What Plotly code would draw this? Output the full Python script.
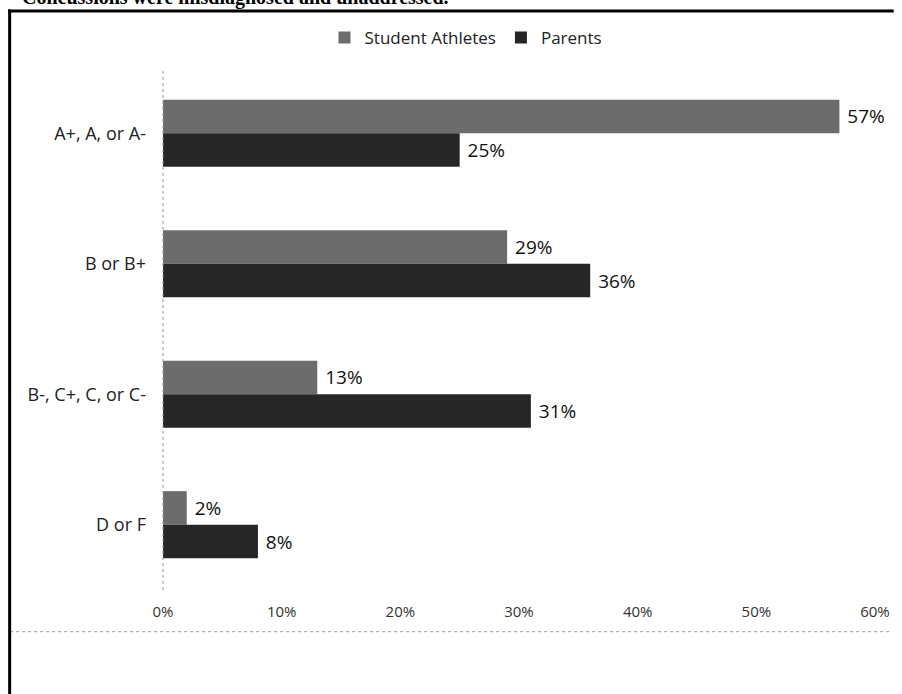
import plotly.graph_objects as go

categories = ["A+, A, or A-", "B or B+", "B-, C+, C, or C-", "D or F"]
student_athletes = [57, 29, 13, 2]
parents = [25, 36, 31, 8]
tick_values = [0, 10, 20, 30, 40, 50, 60]
title_text = "Concussions were misdiagnosed and unaddressed."

W, H = 902, 694
L, R, T, B = 163, 17, 64, 104
pw, ph = W - L - R, H - T - B

def px(x):
    return (x - L) / pw

def py(y):
    return (H - B - y) / ph

FONT = "'Open Sans', Lato, sans-serif"

fig = go.Figure()
fig.add_trace(go.Bar(
    name="Student Athletes", y=categories, x=student_athletes, orientation="h",
    marker=dict(color="#6c6c6c", line=dict(width=0)),
    text=[f"\u00a0{v}%" for v in student_athletes], textposition="outside",
    textfont=dict(size=19, color="#111111", family=FONT), cliponaxis=False,
))
fig.add_trace(go.Bar(
    name="Parents", y=categories, x=parents, orientation="h",
    marker=dict(color="#262626", line=dict(width=0)),
    text=[f"\u00a0{v}%" for v in parents], textposition="outside",
    textfont=dict(size=19, color="#111111", family=FONT), cliponaxis=False,
))

fig.update_layout(
    width=W, height=H,
    margin=dict(l=L, r=R, t=T, b=B),
    paper_bgcolor="white", plot_bgcolor="white",
    barmode="group", bargap=0.485, bargroupgap=0,
    font=dict(family=FONT, color="#222222"),
    showlegend=True,
    legend=dict(orientation="h", xref="container", yref="container",
                x=466 / W, y=1 - 38 / H, xanchor="center", yanchor="middle",
                font=dict(size=17, color="#222222"), traceorder="normal",
                itemwidth=30),
    xaxis=dict(range=[0, 60], tickvals=tick_values,
               ticktext=[f"{v}%" for v in tick_values],
               showgrid=False, zeroline=False, showline=False, ticks="",
               tickfont=dict(size=15, color="#333333"), ticklabelstandoff=11),
    yaxis=dict(autorange="reversed", showgrid=False, zeroline=False,
               showline=False, ticks="", tickfont=dict(size=18, color="#222222"),
               ticklabelstandoff=16),
    shapes=[
        dict(type="line", xref="paper", yref="paper", x0=0, x1=0, y0=0, y1=1,
             line=dict(color="#9a9a9a", width=1, dash="dot")),
        dict(type="line", xref="paper", yref="paper", x0=px(8), x1=px(W), y0=py(632), y1=py(632),
             line=dict(color="#9a9a9a", width=1, dash="dot")),
        dict(type="line", xref="paper", yref="paper", x0=px(7.5), x1=px(7.5), y0=py(H + 2), y1=py(5),
             line=dict(color="#000000", width=3)),
        dict(type="line", xref="paper", yref="paper", x0=px(6), x1=px(W + 2), y0=py(6.5), y1=py(6.5),
             line=dict(color="#000000", width=3)),
    ],
    annotations=[
        dict(text=f"<b>{title_text}</b>", xref="paper", yref="paper", x=px(18), y=py(-7),
             xanchor="left", yanchor="middle", showarrow=False,
             font=dict(family="'Liberation Serif', serif", size=20, color="#000000")),
    ],
)

fig.write_html("out.html", config={"displayModeBar": False},
               post_script="document.body.style.margin='0';")
